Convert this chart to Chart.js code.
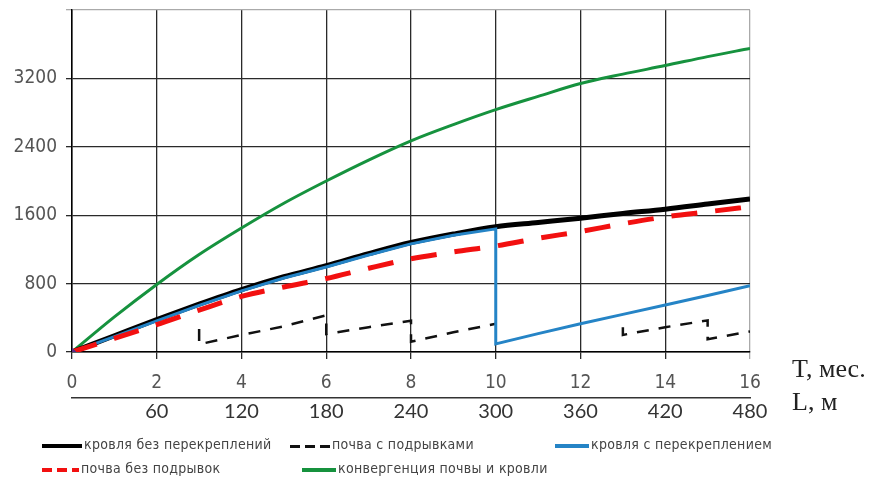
<!DOCTYPE html>
<html>
<head>
<meta charset="utf-8">
<script src="https://cdn.jsdelivr.net/npm/chart.js@4.4.0/dist/chart.umd.min.js"></script>
<style>
body { margin: 0; background: #fff; }
#wrap { position: relative; width: 876px; height: 487px; }
canvas { position: absolute; left: 0; top: 0; }
.axt { position: absolute; font-family: 'Liberation Serif', serif; font-size: 26px; line-height: 30px; color: #222; white-space: nowrap; }
.leg { position: absolute; font-family: 'DejaVu Sans Condensed', 'DejaVu Sans', sans-serif; font-size: 14px; letter-spacing: 0.3px; color: #444; white-space: nowrap; }
.sw { position: absolute; height: 4px; }
</style>
</head>
<body>
<div id="wrap">
  <canvas id="chart" width="876" height="487"></canvas>
  <div class="axt" style="left:792px;top:354px">T, мес.</div>
  <div class="axt" style="left:792px;top:387px">L, м</div>
  <div id="legend"></div>
</div>
<script>
// T, months
const months = [0, 1, 2, 3, 4, 5, 6, 7, 8, 9, 10, 11, 12, 13, 14, 15, 16];
const roofNoReinf = [0, 190, 380, 560, 730, 880, 1010, 1150, 1280, 1380, 1465, 1515, 1565, 1620, 1670, 1730, 1790];
const floorNoBlast = [0, 160, 320, 490, 650, 760, 860, 980, 1090, 1170, 1240, 1330, 1410, 1500, 1580, 1640, 1700];
const convergence = [0, 410, 790, 1140, 1450, 1740, 2000, 2245, 2470, 2660, 2835, 2990, 3140, 3250, 3350, 3455, 3550];

// roof with re-support: drops at T=10
const roofReinfT = [0, 1, 2, 3, 4, 5, 6, 7, 8, 9, 10, 10, 11, 12, 13, 14, 15, 16];
const roofReinf = [0, 180, 365, 545, 715, 865, 995, 1135, 1265, 1365, 1440, 95, 215, 330, 440, 550, 660, 775];

// floor with blasting (sawtooth), null = hidden part
const floorBlastT = [3, 3, 4, 5, 6, 6, 7, 8, 8, 9, 10, 11, 13, 13, 14, 15, 15, 16];
const floorBlast = [270, 90, 200, 300, 430, 210, 290, 365, 120, 230, 330, null, 290, 200, 290, 370, 150, 240];

const timeTicks = [0, 2, 4, 6, 8, 10, 12, 14, 16];
const lengthTicks = [60, 120, 180, 240, 300, 360, 420, 480];
const yTicks = [0, 800, 1600, 2400, 3200, 4000];

function pts(xs, ys) {
    return xs.map((x, i) => ({ x: x, y: ys[i] }));
}

const tickFont = { family: "'DejaVu Sans Condensed', 'Liberation Sans Narrow', sans-serif", size: 19 };

const datasets = [
    { label: '', data: [{ x: 0, y: 0 }], borderColor: '#5b2d82', backgroundColor: '#5b2d82',
      pointStyle: 'rectRot', pointRadius: 4, showLine: false },
    { label: 'почва без подрывок', data: pts(months, floorNoBlast), borderColor: '#f21010',
      borderWidth: 5, borderDash: [26, 18], cubicInterpolationMode: 'monotone' },
    { label: 'кровля с перекреплением', data: pts(roofReinfT, roofReinf), borderColor: '#2584c6',
      borderWidth: 3 },
    { label: 'кровля без перекреплений', data: pts(months, roofNoReinf), borderColor: '#000',
      borderWidth: 5, cubicInterpolationMode: 'monotone' },
    { label: 'почва с подрывками', data: pts(floorBlastT, floorBlast), borderColor: '#111',
      borderWidth: 2.5, borderDash: [12, 10], spanGaps: false },
    { label: 'конвергенция почвы и кровли', data: pts(months, convergence), borderColor: '#16923e',
      borderWidth: 3, cubicInterpolationMode: 'monotone' }
];
datasets.forEach(d => { if (d.pointRadius === undefined) d.pointRadius = 0; });

new Chart(document.getElementById('chart'), {
    type: 'line',
    data: { datasets: datasets },
    options: {
        responsive: false,
        animation: false,
        layout: { padding: { top: 10, right: 126, bottom: 59, left: 0 } },
        plugins: { legend: { display: false }, tooltip: { enabled: false } },
        scales: {
            x: {
                type: 'linear', min: 0, max: 16,
                afterBuildTicks: s => { s.ticks = timeTicks.map(v => ({ value: v })); },
                afterFit: s => { s.height = 46; },
                grid: { color: c => c.tick && c.tick.value === 16 ? '#aaa' : '#2a2a2a', lineWidth: 1.3, tickLength: 7 },
                border: { color: '#000', width: 1.5 },
                ticks: { color: '#555', font: tickFont, padding: 13, maxRotation: 0 }
            },
            x2: {
                type: 'linear', position: 'bottom', min: 0, max: 480,
                afterBuildTicks: s => { s.ticks = lengthTicks.map(v => ({ value: v })); },
                afterFit: s => { s.height = 30; },
                grid: { display: false, drawTicks: false },
                border: { display: true, color: '#333', width: 1.5 },
                ticks: { color: '#333', font: { family: 'Lato, sans-serif', size: 20 }, padding: 2, maxRotation: 0 }
            },
            y: {
                min: 0, max: 4000,
                afterBuildTicks: s => { s.ticks = yTicks.map(v => ({ value: v })); },
                afterFit: s => { s.width = 72; s.paddingTop = 0; s.paddingBottom = 0; },
                grid: { color: c => c.tick && c.tick.value === 4000 ? '#aaa' : '#2a2a2a', lineWidth: 1.3, tickLength: 6 },
                border: { color: '#000', width: 1.5 },
                ticks: { color: '#555', font: tickFont, padding: 9,
                         callback: v => v === 4000 ? '' : v }
            }
        }
    }
});

// legend
const legendItems = [
    { text: 'кровля без перекреплений', x: 42, y: 446, w: 40, color: '#000', dash: false, h: 4 },
    { text: 'почва с подрывками', x: 290, y: 446, w: 40, color: '#111', dash: true, h: 3 },
    { text: 'кровля с перекреплением', x: 555, y: 446, w: 34, color: '#2584c6', dash: false, h: 4 },
    { text: 'почва без подрывок', x: 42, y: 470, w: 37, color: '#f21010', dash: true, h: 4 },
    { text: 'конвергенция почвы и кровли', x: 302, y: 470, w: 34, color: '#16923e', dash: false, h: 4 }
];
const leg = document.getElementById('legend');
for (let it of legendItems) {
    const sw = document.createElement('div');
    sw.className = 'sw';
    sw.style.left = it.x + 'px';
    sw.style.top = (it.y - it.h / 2) + 'px';
    sw.style.width = it.w + 'px';
    sw.style.height = it.h + 'px';
    sw.style.background = it.dash
        ? 'repeating-linear-gradient(90deg,' + it.color + ' 0 10px, transparent 10px 15px)'
        : it.color;
    leg.appendChild(sw);
    const t = document.createElement('div');
    t.className = 'leg';
    t.style.left = (it.x + it.w + 2) + 'px';
    t.style.top = (it.y - 10) + 'px';
    t.textContent = it.text;
    leg.appendChild(t);
}
</script>
</body>
</html>
